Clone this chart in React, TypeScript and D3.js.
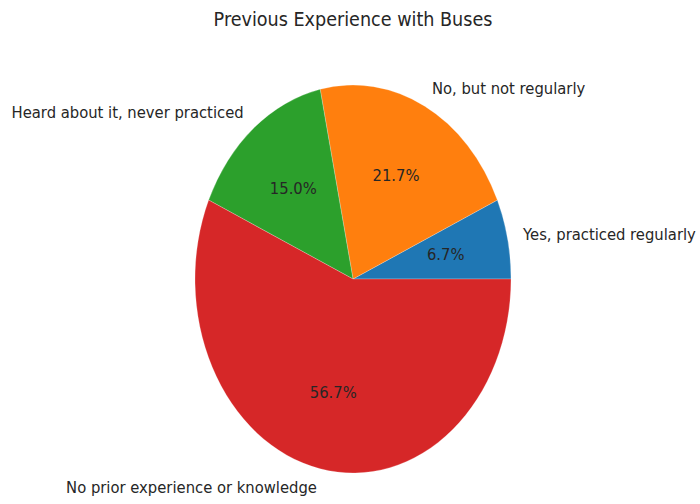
import { useEffect } from "react";
import * as d3 from "d3";

const title = "Previous Experience with Buses";
const categories = [
  "Yes, practiced regularly",
  "No, but not regularly",
  "Heard about it, never practiced",
  "No prior experience or knowledge",
];
const counts = [4, 13, 9, 34];
const colors = ["#1f77b4", "#ff7f0e", "#2ca02c", "#d62728"];

const W = 700;
const H = 504;
const cx = 353;
const cy = 279;
const rx = 158;
const ry = 194;
const sy = ry / rx;
const font = "'DejaVu Sans', sans-serif";
const ink = "#262626";

export default function App() {
  useEffect(() => {
    document.body.style.margin = "0";
  }, []);

  const total = d3.sum(counts);
  // matplotlib: counterclockwise from 3 o'clock -> d3 angles (clockwise from 12)
  const pie = d3
    .pie<number>()
    .sort(null)
    .startAngle(Math.PI / 2)
    .endAngle(Math.PI / 2 - 2 * Math.PI)
    .value((d) => d);
  const arcs = pie(counts);
  const arc = d3.arc<d3.PieArcDatum<number>>().innerRadius(0).outerRadius(rx);

  // point on the (stretched) pie at radius fraction f for a d3 angle a
  const at = (a: number, f: number) => [cx + Math.sin(a) * rx * f, cy - Math.cos(a) * ry * f];

  return (
    <svg width={W} height={H} style={{ display: "block", background: "#fff" }}>
      <text
        transform={`translate(${cx},${19}) scale(1,${sy * 0.9})`}
        textAnchor="middle"
        dominantBaseline="central"
        fontFamily={font}
        fontSize={17.6}
        fill={ink}
      >
        {title}
      </text>
      <g transform={`translate(${cx},${cy}) scale(1,${sy})`}>
        {arcs.map((d, i) => (
          <path key={i} d={arc(d) ?? ""} fill={colors[i]} stroke="#fff" strokeOpacity={0.35} strokeWidth={0.6} />
        ))}
      </g>
      {arcs.map((d, i) => {
        const mid = (d.startAngle + d.endAngle) / 2;
        const [lx, ly] = at(mid, 1.1);
        const [px, py] = at(mid, 0.6);
        const pct = ((counts[i] / total) * 100).toFixed(1) + "%";
        return (
          <g key={i} fontFamily={font} fontSize={14.8} fill={ink}>
            <text
              transform={`translate(${lx},${ly}) scale(1,${sy * 0.9})`}
              textAnchor={Math.sin(mid) >= 0 ? "start" : "end"}
              dominantBaseline="central"
            >
              {categories[i]}
            </text>
            <text
              transform={`translate(${px},${py}) scale(1,${sy * 0.9})`}
              textAnchor="middle"
              dominantBaseline="central"
            >
              {pct}
            </text>
          </g>
        );
      })}
    </svg>
  );
}
